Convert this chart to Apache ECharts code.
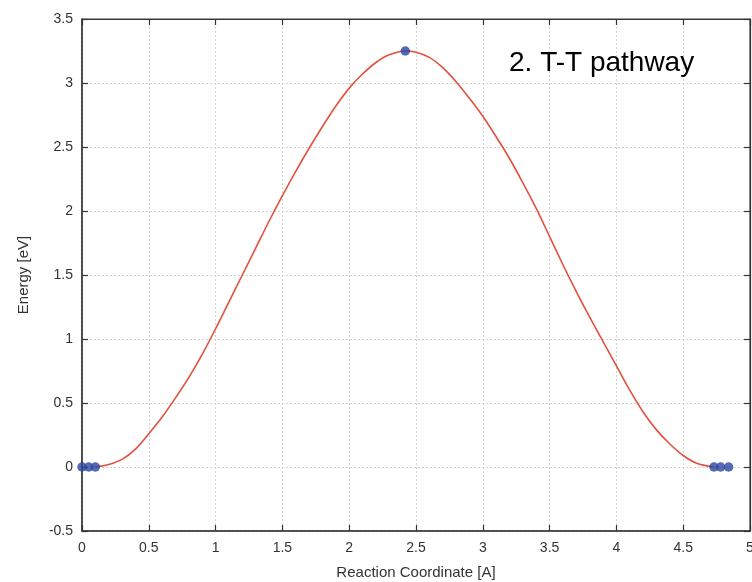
<!DOCTYPE html>
<html>
<head>
<meta charset="utf-8">
<script src="https://cdn.jsdelivr.net/npm/echarts@6/dist/echarts.min.js"></script>
<style>
  html, body { margin: 0; padding: 0; background: #fff; }
  #chart { width: 752px; height: 582px; }
</style>
</head>
<body>
<div id="chart"></div>
<script>
// Minimum energy path along the reaction coordinate
const pathX = [0.1, 0.2, 0.3, 0.4, 0.5, 0.6, 0.7, 0.8, 0.9, 1.0, 1.1, 1.2, 1.3, 1.4, 1.5, 1.6, 1.7, 1.8, 1.9, 2.0,
  2.1, 2.2, 2.3, 2.42, 2.5, 2.6, 2.7, 2.8, 2.9, 3.0, 3.1, 3.2, 3.3, 3.4, 3.5, 3.6, 3.7, 3.8, 3.9, 4.0,
  4.1, 4.2, 4.3, 4.4, 4.5, 4.6, 4.73];
const pathE = [0, 0.02, 0.06, 0.14, 0.26, 0.39, 0.54, 0.70, 0.88, 1.08, 1.29, 1.50, 1.71, 1.92, 2.12, 2.31, 2.49, 2.66, 2.82, 2.96,
  3.07, 3.16, 3.22, 3.25, 3.24, 3.20, 3.12, 3.01, 2.88, 2.74, 2.58, 2.41, 2.22, 2.02, 1.80, 1.58, 1.37, 1.17, 0.98, 0.79,
  0.60, 0.43, 0.29, 0.18, 0.09, 0.03, 0];

// Images (endpoints and saddle)
const imageX = [0, 0.05, 0.1, 2.42, 4.73, 4.78, 4.84];
const imageE = [0, 0, 0, 3.25, 0, 0, 0];

const xTicks = [0, 0.5, 1, 1.5, 2, 2.5, 3, 3.5, 4, 4.5, 5];
const yTicks = [-0.5, 0, 0.5, 1, 1.5, 2, 2.5, 3, 3.5];

const chart = echarts.init(document.getElementById('chart'), null, { renderer: 'canvas' });

const font = 'Liberation Sans, Arial, Helvetica, sans-serif';
const axisColor = '#333';
const gridLine = { show: true, lineStyle: { color: '#d2d2d2', type: [2, 2], width: 1 } };

const fmt = v => String(v);

chart.setOption({
  animation: false,
  backgroundColor: '#fff',
  title: {
    text: '2. T-T pathway',
    left: 504, top: 44,
    textStyle: { fontFamily: font, fontSize: 28, fontWeight: 'normal', color: '#000' }
  },
  grid: {
    left: 82, right: 2, top: 19, bottom: 51,
    outerBoundsMode: 'none', containLabel: false,
    show: true, borderColor: '#444', borderWidth: 1.2
  },
  xAxis: [{
    type: 'value', min: xTicks[0], max: xTicks[xTicks.length - 1], interval: 0.5,
    name: 'Reaction Coordinate [A]', nameLocation: 'middle', nameGap: 34,
    nameTextStyle: { fontFamily: font, fontSize: 15, color: '#333' },
    axisLine: { show: true, onZero: false, lineStyle: { color: axisColor, width: 1.5 } },
    axisTick: { show: true, inside: true, length: 6, lineStyle: { color: axisColor, width: 1.2 } },
    axisLabel: { fontFamily: font, fontSize: 14, color: '#333', margin: 10, formatter: fmt },
    splitLine: gridLine
  }, {
    type: 'value', position: 'top', min: xTicks[0], max: xTicks[xTicks.length - 1], interval: 0.5,
    axisLine: { show: true, onZero: false, lineStyle: { color: axisColor, width: 1.2 } },
    axisTick: { show: true, inside: true, length: 6, lineStyle: { color: axisColor, width: 1.2 } },
    axisLabel: { show: false }, splitLine: { show: false }
  }],
  yAxis: [{
    type: 'value', min: yTicks[0], max: yTicks[yTicks.length - 1], interval: 0.5,
    name: 'Energy [eV]', nameLocation: 'middle', nameGap: 51, nameRotate: 90,
    nameTextStyle: { fontFamily: font, fontSize: 15, color: '#333' },
    axisLine: { show: true, onZero: false, lineStyle: { color: axisColor, width: 1.5 } },
    axisTick: { show: true, inside: true, length: 6, lineStyle: { color: axisColor, width: 1.2 } },
    axisLabel: { fontFamily: font, fontSize: 14, color: '#333', margin: 9, formatter: fmt },
    splitLine: gridLine
  }, {
    type: 'value', position: 'right', min: yTicks[0], max: yTicks[yTicks.length - 1], interval: 0.5,
    axisLine: { show: true, onZero: false, lineStyle: { color: axisColor, width: 1.2 } },
    axisTick: { show: true, inside: true, length: 6, lineStyle: { color: axisColor, width: 1.2 } },
    axisLabel: { show: false }, splitLine: { show: false }
  }],
  series: [{
    type: 'line',
    data: pathX.map((x, i) => [x, pathE[i]]),
    smooth: 0.3,
    showSymbol: false,
    lineStyle: { color: '#e2503f', width: 1.6 },
    z: 2
  }, {
    type: 'scatter',
    data: imageX.map((x, i) => [x, imageE[i]]),
    symbolSize: 9.5,
    itemStyle: { color: '#2b45a0' },
    z: 3
  }]
});
</script>
</body>
</html>
